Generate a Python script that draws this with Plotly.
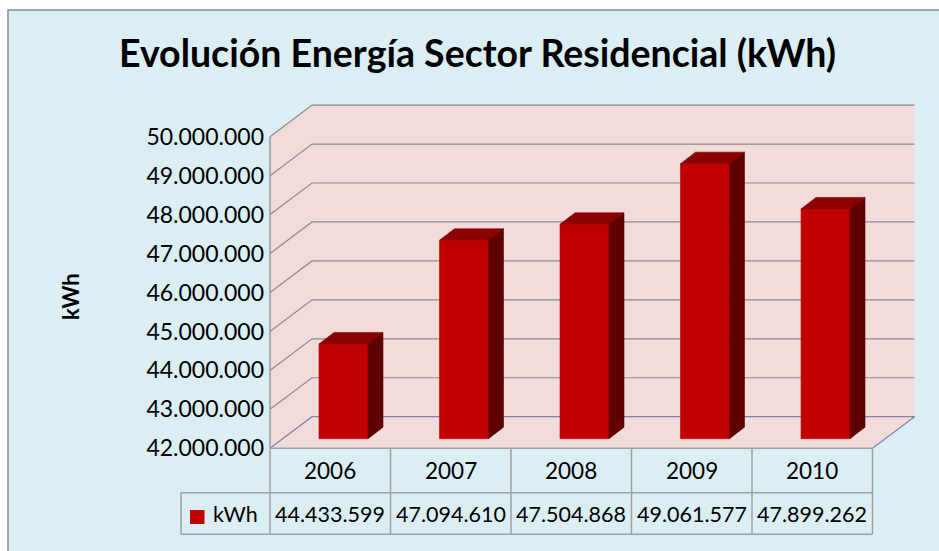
import plotly.graph_objects as go

# ---------------- data ----------------
years = ["2006", "2007", "2008", "2009", "2010"]
kwh = [44433599, 47094610, 47504868, 49061577, 47899262]
y_ticks = [42000000, 43000000, 44000000, 45000000, 46000000,
           47000000, 48000000, 49000000, 50000000]
series_name = "kWh"
chart_title = "Evolución Energía Sector Residencial (kWh)"
axis_title = "kWh"

# ---------------- geometry / style ----------------
W, H = 939, 551
PX_CAT = 120.5            # px per category
X0_PX = 270               # px of front-left corner of the floor
PX_Y = 38.95 / 1e6        # px per kWh
Y0_PX = 448.3             # px of the floor front edge
FLOOR = y_ticks[0]
TOP = y_ticks[-1]
n = len(years)

xa = -0.5 - X0_PX / PX_CAT
xb = xa + W / PX_CAT
ya_top = FLOOR + Y0_PX / PX_Y
ya_bot = FLOOR - (H - Y0_PX) / PX_Y

DX = 42 / PX_CAT          # wall depth (x units)
DY = 31.6 / PX_Y          # wall depth (y units)
BOX = 13.25 / PX_CAT      # bar front offset
BOY = 9.6 / PX_Y
BW = 49 / PX_CAT          # bar width
BDX = 15 / PX_CAT         # bar depth
BDY = 11.5 / PX_Y

BG = "#dbeef4"
PINK = "#f2dcdb"
GRID = "#8a8a8a"
FLOOR_LINE = "#7f7fb2"
TABLE_LINE = "#a0a0a0"
FRONT = "#c00000"
TOPC = "#8c0000"
SIDE = "#5e0000"
FONT = "Lato"


def px2x(px):
    return -0.5 + (px - X0_PX) / PX_CAT


def py2paper(py):
    return 1 - py / H


fig = go.Figure()


def poly(xs, ys, color, line_color=None, lw=0.6):
    fig.add_trace(go.Scatter(
        x=xs + [xs[0]], y=ys + [ys[0]], mode="lines", fill="toself",
        fillcolor=color, line=dict(color=line_color or color, width=lw),
        hoverinfo="skip", showlegend=False))


L, R = -0.5, n - 0.5
# left wall
poly([L, L, L + DX, L + DX], [FLOOR, TOP, TOP + DY, FLOOR + DY], PINK, PINK, 0)
# back wall
poly([L + DX, R + DX, R + DX, L + DX], [FLOOR + DY, FLOOR + DY, TOP + DY, TOP + DY], PINK, PINK, 0)
# floor
poly([L, R, R + DX, L + DX], [FLOOR, FLOOR, FLOOR + DY, FLOOR + DY], PINK, PINK, 0)

# gridlines (back wall + left wall)
gx, gy = [], []
for v in y_ticks[1:]:
    gx += [L, L + DX, R + DX, None]
    gy += [v, v + DY, v + DY, None]
fig.add_trace(go.Scatter(x=gx, y=gy, mode="lines", line=dict(color=GRID, width=1.2),
                         hoverinfo="skip", showlegend=False))
# floor edges
fig.add_trace(go.Scatter(x=[L, L + DX, R + DX, R], y=[FLOOR, FLOOR + DY, FLOOR + DY, FLOOR],
                         mode="lines", line=dict(color=FLOOR_LINE, width=1.2),
                         hoverinfo="skip", showlegend=False))
# left wall front edge
fig.add_trace(go.Scatter(x=[L, L], y=[FLOOR, TOP], mode="lines",
                         line=dict(color="#9a9a9a", width=1.5),
                         hoverinfo="skip", showlegend=False))

# bars
for i, v in enumerate(kwh):
    x0 = i - BW / 2 + BOX
    x1 = x0 + BW
    b = FLOOR + BOY
    t = v + BOY
    poly([x0, x1, x1, x0], [b, b, t, t], FRONT)
    poly([x0, x1, x1 + BDX, x0 + BDX], [t, t, t + BDY, t + BDY], TOPC)
    poly([x1, x1 + BDX, x1 + BDX, x1], [b, b + BDY, t + BDY, t], SIDE)

# ---------------- shapes: background, table ----------------
shapes = [dict(type="rect", xref="paper", yref="paper", x0=8 / W, x1=1.05,
               y0=-0.05, y1=py2paper(10), fillcolor=BG,
               line=dict(color="#8c8c8c", width=1.5), layer="below")]

ROW0, ROW1, ROW2 = Y0_PX, 492.7, 534.3
LEG_L = px2x(181)
tl = dict(color=TABLE_LINE, width=1.5)
shapes.append(dict(type="line", xref="x", yref="paper", x0=L, x1=R,
                   y0=py2paper(ROW0), y1=py2paper(ROW0), line=tl))
for yy in (ROW1, ROW2):
    shapes.append(dict(type="line", xref="x", yref="paper", x0=LEG_L, x1=R,
                       y0=py2paper(yy), y1=py2paper(yy), line=tl))
for k in range(n + 1):
    shapes.append(dict(type="line", xref="x", yref="paper", x0=L + k, x1=L + k,
                       y0=py2paper(ROW0), y1=py2paper(ROW2), line=tl))
shapes.append(dict(type="line", xref="x", yref="paper", x0=LEG_L, x1=LEG_L,
                   y0=py2paper(ROW1), y1=py2paper(ROW2), line=tl))
# legend key
shapes.append(dict(type="rect", xref="x", yref="paper", x0=px2x(190), x1=px2x(204.5),
                   y0=py2paper(524), y1=py2paper(510), fillcolor=FRONT,
                   line=dict(width=0)))

annotations = []
for i, yr in enumerate(years):
    annotations.append(dict(x=i, y=py2paper((ROW0 + ROW1) / 2), xref="x", yref="paper",
                            text=yr, showarrow=False, xanchor="center", yanchor="middle",
                            font=dict(family=FONT, size=22.5, color="black")))
    annotations.append(dict(x=i, y=py2paper((ROW1 + ROW2) / 2), xref="x", yref="paper",
                            text=f"{kwh[i]:,}".replace(",", "."), showarrow=False,
                            xanchor="center", yanchor="middle",
                            font=dict(family=FONT, size=21.5, color="black")))
annotations.append(dict(x=px2x(211), y=py2paper((ROW1 + ROW2) / 2), xref="x", yref="paper",
                        text=series_name, showarrow=False, xanchor="left", yanchor="middle",
                        font=dict(family=FONT, size=21.5, color="black")))
annotations.append(dict(x=477 / W, y=py2paper(53), xref="paper", yref="paper",
                        text=f"<b>{chart_title}</b>", showarrow=False,
                        xanchor="center", yanchor="middle",
                        font=dict(family=FONT, size=37.5, color="black")))
annotations.append(dict(x=70 / W, y=py2paper(297), xref="paper", yref="paper",
                        text=f"<b>{axis_title}</b>", showarrow=False, textangle=-90,
                        xanchor="center", yanchor="middle",
                        font=dict(family=FONT, size=22, color="black")))

fig.update_layout(
    width=W, height=H, autosize=False,
    margin=dict(l=0, r=0, t=0, b=0, pad=0),
    paper_bgcolor="white", plot_bgcolor="rgba(0,0,0,0)",
    separators=",.",
    showlegend=False,
    shapes=shapes, annotations=annotations,
    xaxis=dict(range=[xa, xb], visible=False, fixedrange=True),
    yaxis=dict(range=[ya_bot, ya_top], anchor="free", position=X0_PX / W, side="left",
               tickvals=y_ticks, tickformat=",.0f", ticks="", ticklabelstandoff=6,
               showgrid=False, zeroline=False, showline=False, fixedrange=True,
               tickfont=dict(family=FONT, size=23, color="black")),
)

fig.write_html("out.html", config={"displayModeBar": False},
               post_script="document.body.style.margin='0';document.body.style.overflow='hidden';")
